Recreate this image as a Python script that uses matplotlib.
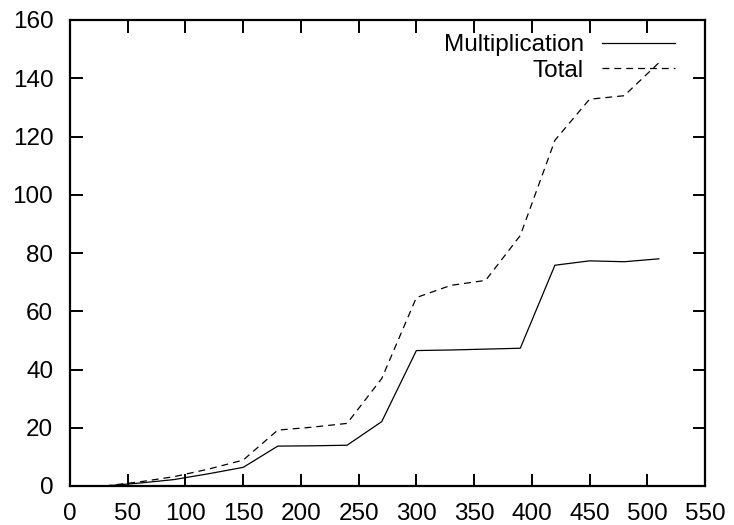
import matplotlib
matplotlib.use("Agg")
import matplotlib.pyplot as plt

x_vals = [30, 60, 90, 120, 150, 180, 210, 240, 270, 300, 330, 360, 390, 420, 450, 480, 510]
multiplication = [0, 1.0, 2.2, 4.2, 6.4, 13.7, 13.8, 14.0, 22.1, 46.5, 46.7, 47.0, 47.3, 75.8, 77.3, 77.0, 78.0]
total = [0, 1.4, 3.2, 5.8, 8.9, 19.2, 20.2, 21.5, 36.9, 64.7, 68.9, 70.6, 86.0, 118.7, 132.8, 134.0, 145.3]

x_ticks = list(range(0, 551, 50))
y_ticks = list(range(0, 161, 20))

plt.rcParams['font.family'] = ['Liberation Sans', 'DejaVu Sans']

fig = plt.figure(figsize=(7.34, 5.25), dpi=100)
ax = fig.add_axes([70/734, 39/525, 635/734, 466/525])

ax.plot(x_vals, multiplication, color='black', lw=0.9, label='Multiplication')
ax.plot(x_vals, total, color='black', lw=0.9, dashes=(5.5, 4), label='Total')

ax.set_xlim(0, 550)
ax.set_ylim(0, 160)
ax.set_xticks(x_ticks)
ax.set_yticks(y_ticks)
ax.tick_params(direction='in', length=9, width=1.4, top=True, right=True,
               labelsize=17.5)
ax.tick_params(axis='x', pad=12)
ax.tick_params(axis='y', pad=12)
for s in ax.spines.values():
    s.set_linewidth(1.6)

leg = ax.legend(loc='upper right', bbox_to_anchor=(605/635, 1 - 14/466), frameon=False,
                markerfirst=False, fontsize=17.5, handlelength=3.0,
                handletextpad=0.75, labelspacing=0.16, borderpad=0.0,
                borderaxespad=0)
for t in leg.get_texts():
    t.set_ha('right')

fig.savefig('out.png', dpi=100)
